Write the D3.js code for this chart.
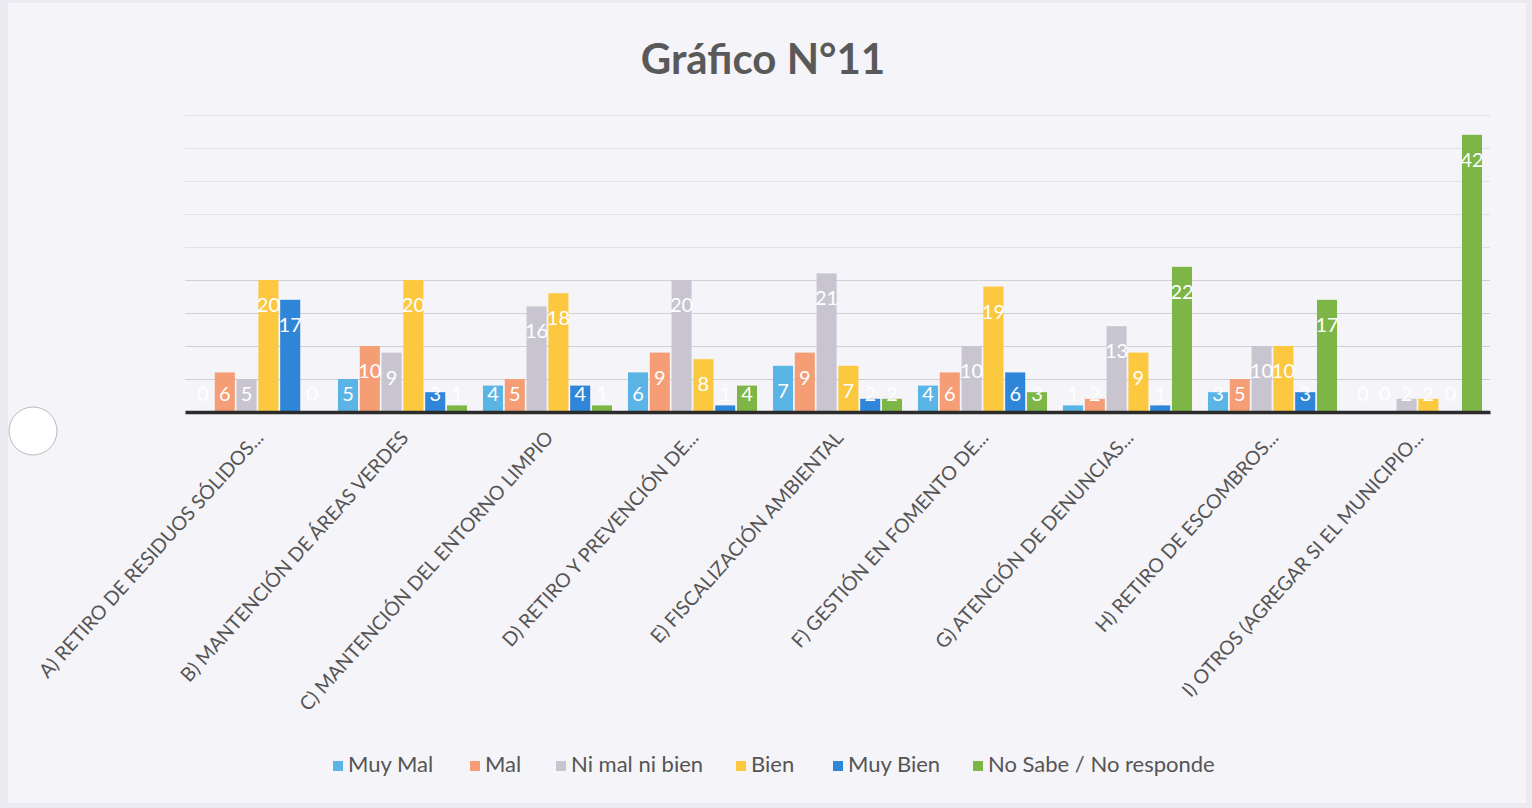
<!DOCTYPE html>
<html>
<head>
<meta charset="utf-8">
<script src="https://cdn.jsdelivr.net/npm/d3@7"></script>
<style>
  html, body { margin: 0; padding: 0; background: #eceaf0; }
  svg { display: block; }
</style>
</head>
<body>
<svg id="chart" width="1532" height="808"></svg>
<script>
// ---- DATA ----
const categories = [
  "A) RETIRO DE RESIDUOS SÓLIDOS...",
  "B) MANTENCIÓN DE ÁREAS VERDES",
  "C) MANTENCIÓN DEL ENTORNO LIMPIO",
  "D) RETIRO Y PREVENCIÓN DE...",
  "E) FISCALIZACIÓN AMBIENTAL",
  "F) GESTIÓN EN FOMENTO DE...",
  "G) ATENCIÓN DE DENUNCIAS...",
  "H) RETIRO DE ESCOMBROS...",
  "I) OTROS (AGREGAR SI EL MUNICIPIO..."
];
const seriesNames = ["Muy Mal", "Mal", "Ni mal ni bien", "Bien", "Muy Bien", "No Sabe / No responde"];
const muyMal     = [0, 5, 4, 6, 7, 4, 1, 3, 0];
const mal        = [6, 10, 5, 9, 9, 6, 2, 5, 0];
const niMalNiBien= [5, 9, 16, 20, 21, 10, 13, 10, 2];
const bien       = [20, 20, 18, 8, 7, 19, 9, 10, 2];
const muyBien    = [17, 3, 4, 1, 2, 6, 1, 3, 0];
const noSabe     = [0, 1, 1, 4, 2, 3, 22, 17, 42];
const gridTicks  = [5, 10, 15, 20, 25, 30, 35, 40, 45];
const colors     = ["#5ab4e5", "#f59e76", "#c8c5d0", "#fbc840", "#2f86d8", "#7db646"];
const titleText  = "Gráfico N°11";

const seriesValues = [muyMal, mal, niMalNiBien, bien, muyBien, noSabe];

// ---- DRAW ----
const svg = d3.select("#chart");
const W = 1532, H = 808;
const FONT = "Lato, 'Open Sans', sans-serif";

// paper / chart area
svg.append("rect").attr("x", 0).attr("y", 0).attr("width", W).attr("height", H).attr("fill", "#eceaf0");
svg.append("rect").attr("x", 8).attr("y", 3).attr("width", 1518).attr("height", 800)
  .attr("fill", "#f5f4f8");

const plotLeft = 185, plotRight = 1490, baseY = 412;

const x0 = d3.scaleBand().domain(categories).range([plotLeft, plotRight])
  .paddingInner(0.11).paddingOuter(0.055);
const x1 = d3.scaleBand().domain(seriesNames).range([0, x0.bandwidth()]).paddingInner(0.08);
const y = d3.scaleLinear().domain([0, 45]).range([baseY, baseY - 45 * 6.6]);
const color = d3.scaleOrdinal().domain(seriesNames).range(colors);

// gridlines
const grid = svg.append("g").attr("transform", `translate(${plotLeft},0)`)
  .call(d3.axisLeft(y).tickValues(gridTicks).tickSize(-(plotRight - plotLeft)).tickFormat(""));
grid.select(".domain").remove();
grid.selectAll(".tick line").attr("stroke", (d) => d <= 20 ? "#cfcfd6" : "#e2e1e8").attr("stroke-width", 1.2);

// title
svg.append("text").attr("x", 763).attr("y", 74).attr("text-anchor", "middle")
  .attr("font-family", FONT).attr("font-weight", "bold")
  .attr("font-size", 42).attr("fill", "#595959").text(titleText);

// bars
const rows = categories.map((c, i) => ({ cat: c, vals: seriesNames.map((s, j) => ({ s, v: seriesValues[j][i] })) }));
const groups = svg.append("g").selectAll("g").data(rows).join("g")
  .attr("transform", (d) => `translate(${x0(d.cat)},0)`);

groups.selectAll("rect").data((d) => d.vals).join("rect")
  .attr("x", (d) => x1(d.s)).attr("width", x1.bandwidth())
  .attr("y", (d) => y(d.v)).attr("height", (d) => y(0) - y(d.v))
  .attr("fill", (d) => color(d.s));

groups.selectAll("text").data((d) => d.vals).join("text")
  .attr("x", (d) => x1(d.s) + x1.bandwidth() / 2)
  .attr("y", (d) => Math.min(y(d.v) + 27, y(0) - 16))
  .attr("text-anchor", "middle").attr("dominant-baseline", "middle")
  .attr("font-family", FONT).attr("font-size", 20)
  .attr("fill", "#ffffff").text((d) => d.v);

// baseline axis
const xAxis = svg.append("g").attr("transform", `translate(0,${baseY})`)
  .call(d3.axisBottom(x0).tickSize(0).tickPadding(0));
xAxis.select(".domain").attr("stroke", "#2b2b2b").attr("stroke-width", 3.5);
xAxis.selectAll(".tick text")
  .attr("font-family", FONT).attr("font-size", 19.5)
  .attr("fill", "#555555").attr("text-anchor", "end")
  .attr("transform", "translate(2,22) rotate(-48)")
  .attr("dy", "0.35em").attr("y", 0);

// legend
const legendX = [333, 470, 556, 736, 833, 973];
const legend = svg.append("g");
const li = legend.selectAll("g").data(seriesNames).join("g")
  .attr("transform", (d, i) => `translate(${legendX[i]},766)`);
li.append("rect").attr("x", 0).attr("y", -5).attr("width", 10).attr("height", 10).attr("fill", (d) => color(d));
li.append("text").attr("x", 15).attr("y", 0).attr("dominant-baseline", "middle")
  .attr("font-family", FONT).attr("font-size", 22)
  .attr("fill", "#555555").text((d) => d);

// punch hole of the scanned page
svg.append("circle").attr("cx", 33).attr("cy", 431).attr("r", 24)
  .attr("fill", "#ffffff").attr("stroke", "#b9b8bf").attr("stroke-width", 1);
</script>
</body>
</html>
